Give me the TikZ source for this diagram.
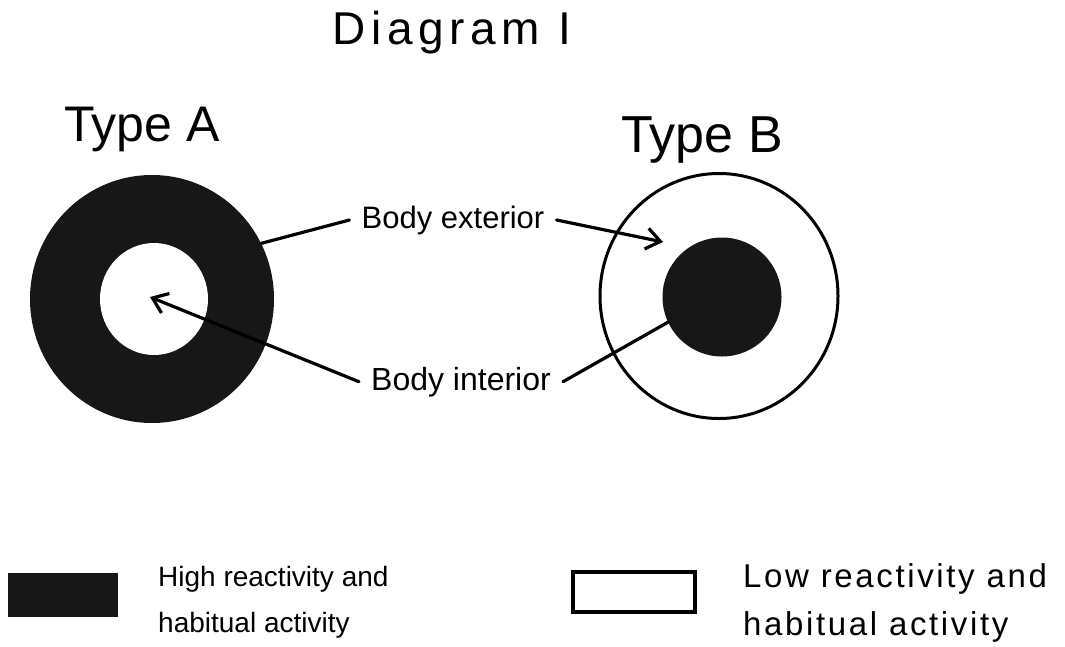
\documentclass[tikz,border=0pt]{standalone}
\usepackage{fontspec}
\setmainfont{Liberation Sans}
\usetikzlibrary{shapes.geometric,arrows.meta}
\definecolor{ink}{gray}{0.09}
\begin{document}
\begin{tikzpicture}[x=1pt,y=-1pt,
  txt/.style={inner sep=0pt, text=black},
  lbl/.style={inner xsep=12pt, inner ysep=0pt},
  conn/.style={line width=3.2pt, line cap=round, draw=black},
  arr/.style={conn, -{Straight Barb[length=14pt,width=21pt,line width=3.2pt]}},
  darkfill/.style={fill=ink, draw=none},
]
\useasboundingbox[fill=white] (0,0) rectangle (1065,646);

% titles
\node[txt, anchor=base, font=\fontsize{46}{48}\selectfont\addfontfeature{LetterSpace=12}] (title) at (452,44) {Diagram I};
\node[txt, anchor=base, font=\fontsize{50}{52}\selectfont] (typeA) at (142,141) {Type A};
\node[txt, anchor=base, font=\fontsize{52}{54}\selectfont] (typeB) at (702,152) {Type B};

% Type A
\node[ellipse, darkfill, minimum width=244pt, minimum height=248pt, inner sep=0pt] (ringA) at (152,299) {};
\node[ellipse, fill=white, draw=none, minimum width=108pt, minimum height=112pt, inner sep=0pt] (holeA) at (154,299) {};

% Type B
\node[ellipse, draw=black, line width=3pt, fill=white, minimum width=238pt, minimum height=245pt, inner sep=0pt] (outerB) at (719,296) {};
\node[circle, darkfill, minimum size=119pt, inner sep=0pt] (coreB) at (722,297) {};

% labels
\node[lbl, anchor=base, font=\fontsize{31}{33}\selectfont] (ext) at (453,228) {Body exterior};
\node[lbl, anchor=base, font=\fontsize{32}{34}\selectfont] (int) at (461,390) {Body interior};

\coordinate (extTip) at (663,242);
\coordinate (intTip) at (150,297);

\draw[conn] (ext.west) -- (ringA.27);
\draw[arr] (ext.east) -- (extTip);
\draw[arr] (int.west) -- (intTip);
\draw[conn] (int.east) -- (coreB.205);

% legend
\node[rectangle, darkfill, minimum width=110pt, minimum height=44pt, inner sep=0pt] (keyHigh) at (63,595) {};
\node[rectangle, draw=black, line width=3.2pt, minimum width=122pt, minimum height=40pt, inner sep=0pt] (keyLow) at (634,592) {};

\node[txt, anchor=north west, align=left, font=\fontsize{28}{46}\selectfont] (txtHigh) at (158,566) {High reactivity and\\habitual activity};
\node[txt, anchor=north west, align=left, font=\fontsize{33}{48}\selectfont\addfontfeature{LetterSpace=8}] (txtLow) at (743,563) {Low reactivity and\\habitual activity};
\end{tikzpicture}
\end{document}
